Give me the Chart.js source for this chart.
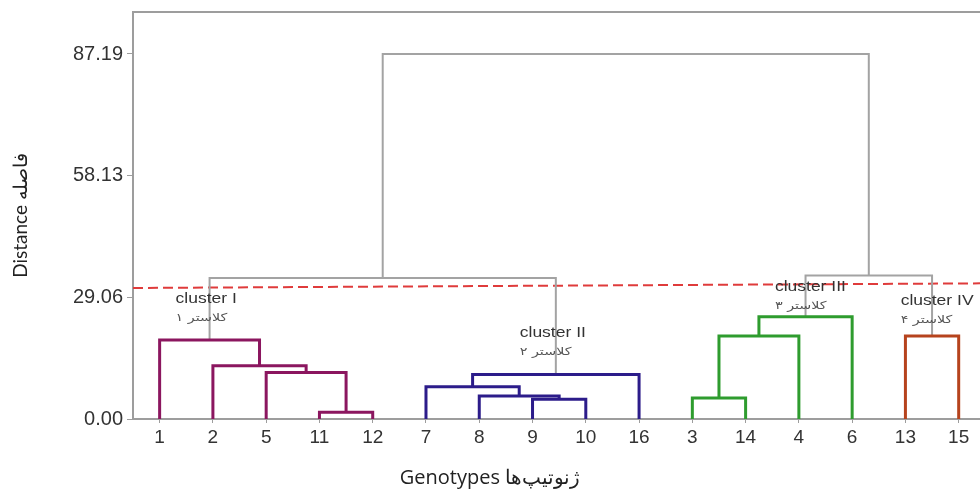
<!DOCTYPE html>
<html>
<head>
<meta charset="utf-8">
<script src="https://cdn.jsdelivr.net/npm/chart.js@4.4.1/dist/chart.umd.min.js"></script>
<style>
html,body{margin:0;padding:0;background:#fff;}
#wrap{position:relative;width:980px;height:490px;}
</style>
</head>
<body>
<div id="wrap"><canvas id="dendroChart"></canvas></div>
<script>
// leaves in the order they sit on the x axis
const leafLabels = ["1","2","5","11","12","7","8","9","10","16","3","14","4","6","13","15"];
// cluster number of each leaf (same order)
const leafCluster = [0,0,0,0,0,1,1,1,1,1,2,2,2,2,3,3];

// merges: node ids 0..15 are leaves, merge k makes node 16+k
const mergeLeft   = [3, 2, 1, 0, 7, 6, 5, 22, 10, 24, 25, 14, 19, 26, 28];
const mergeRight  = [4, 16, 17, 18, 8, 20, 21, 9, 11, 12, 13, 15, 23, 27, 29];
const mergeHeight = [1.6, 11.1, 12.7, 18.9, 4.7, 5.5, 7.7, 10.6, 5.0, 19.8, 24.4, 19.8, 33.7, 34.3, 87.19];

const yTicks = [0, 29.06, 58.13, 87.19];
const cutLine = [31.3, 32.4];   // dashed cut, left end / right end

const clusterNames = ["cluster I","cluster II","cluster III","cluster IV"];
const clusterNamesFa = ["کلاستر ۱","کلاستر ۲","کلاستر ۳","کلاستر ۴"];

const clusterColors = ["#8b165f","#2c1c8a","#2e9c2e","#b6431d"];
const linkGray = "#a3a3a3";
const axisGray = "#9d9d9d";
const xMin = -0.5, xMax = 15.4, yMax = 97.22;

// where the cluster captions go (data units)
const captionPos = [[0.3,28.6],[6.76,20.4],[11.55,31.4],[13.91,28.1]];

// node positions: leaves at their index, merges at the middle of their children
const nodeX = leafLabels.map((_, i) => i);
const nodeY = leafLabels.map(() => 0);
const nodeCl = leafCluster.slice();
mergeLeft.forEach((l, k) => {
  const r = mergeRight[k];
  nodeX.push((nodeX[l] + nodeX[r]) / 2);
  nodeY.push(mergeHeight[k]);
  nodeCl.push(nodeCl[l] === nodeCl[r] ? nodeCl[l] : -1);
});

const linkSets = mergeLeft.map((l, k) => {
  const r = mergeRight[k];
  const c = nodeCl[leafLabels.length + k];
  const h = mergeHeight[k];
  return {
    data: [
      {x: nodeX[l], y: nodeY[l]},
      {x: nodeX[l], y: h},
      {x: nodeX[r], y: h},
      {x: nodeX[r], y: nodeY[r]}
    ],
    borderColor: c < 0 ? linkGray : clusterColors[c],
    borderWidth: c < 0 ? 2 : 3,
    borderJoinStyle: "miter",
    borderCapStyle: "butt",
    pointRadius: 0,
    fill: false,
    tension: 0
  };
});

const cutSet = {
  data: [{x: xMin, y: cutLine[0]}, {x: xMax, y: cutLine[1]}],
  borderColor: "#df3b3b",
  borderWidth: 2,
  borderDash: [10, 5],
  pointRadius: 0,
  fill: false
};

// captions are a bit wider than tall in the original, so stretch them
function wideText(ctx, txt, px, py, stretch) {
  ctx.save();
  ctx.translate(px, py);
  ctx.scale(stretch, 1);
  ctx.fillText(txt, 0, 0);
  ctx.restore();
}

const captionPlugin = {
  id: "captions",
  afterDatasetsDraw(chart) {
    const ctx = chart.ctx;
    const x = chart.scales.x, y = chart.scales.y;
    ctx.save();
    ctx.textAlign = "left";
    ctx.textBaseline = "middle";
    clusterNames.forEach((name, i) => {
      const px = x.getPixelForValue(captionPos[i][0]);
      const py = y.getPixelForValue(captionPos[i][1]);
      ctx.fillStyle = "#333";
      ctx.font = '14px "Liberation Sans", Arial, sans-serif';
      wideText(ctx, name, px, py, 1.25);
      ctx.fillStyle = "#555";
      ctx.font = '11px "DejaVu Sans", sans-serif';
      wideText(ctx, clusterNamesFa[i], px, py + 19, 1.3);
    });
    ctx.restore();
  }
};

new Chart(document.getElementById("dendroChart"), {
  type: "line",
  data: { datasets: linkSets.concat([cutSet]) },
  options: {
    responsive: true,
    maintainAspectRatio: false,
    animation: false,
    layout: { padding: { top: 12, right: 0, bottom: 0, left: 0 } },
    plugins: {
      legend: { display: false },
      tooltip: { enabled: false },
      title: {
        display: true,
        position: "bottom",
        text: "Genotypes ژنوتیپ‌ها",
        color: "#222",
        font: { family: '"Open Sans", sans-serif', size: 20, weight: "normal" },
        padding: { top: 0, bottom: 0 }
      }
    },
    scales: {
      x: {
        type: "linear",
        position: "bottom",
        min: xMin,
        max: xMax,
        afterBuildTicks: (scale) => { scale.ticks = leafLabels.map((_, i) => ({ value: i })); },
        afterFit: (scale) => { scale.height = 47; scale.paddingLeft = 0; scale.paddingRight = 0; },
        ticks: {
          autoSkip: false,
          maxRotation: 0,
          padding: 3,
          color: "#333",
          font: { family: '"Liberation Sans", Arial, sans-serif', size: 19 },
          callback: (v) => leafLabels[Math.round(v)]
        },
        grid: { display: true, drawOnChartArea: false, drawTicks: true, tickLength: 4, color: axisGray },
        border: { display: true, color: axisGray, width: 2 }
      },
      xTop: {
        type: "linear",
        position: "top",
        min: xMin,
        max: xMax,
        ticks: { display: false },
        grid: { display: false, drawTicks: false },
        border: { display: true, color: axisGray, width: 2 }
      },
      y: {
        min: 0,
        max: yMax,
        afterBuildTicks: (scale) => { scale.ticks = yTicks.map(v => ({ value: v })); },
        afterFit: (scale) => { scale.width = 133; scale.paddingTop = 0; scale.paddingBottom = 0; },
        ticks: {
          padding: 4,
          color: "#333",
          font: { family: '"Liberation Sans", Arial, sans-serif', size: 20 },
          callback: (v) => v.toFixed(2)
        },
        grid: { display: true, drawOnChartArea: false, drawTicks: true, tickLength: 6, color: axisGray },
        border: { display: true, color: axisGray, width: 2 },
        title: {
          display: true,
          text: "Distance فاصله",
          color: "#222",
          font: { family: "Lato, sans-serif", size: 19 },
          padding: { top: 9, bottom: 0 }
        }
      }
    }
  },
  plugins: [captionPlugin]
});
</script>
</body>
</html>
